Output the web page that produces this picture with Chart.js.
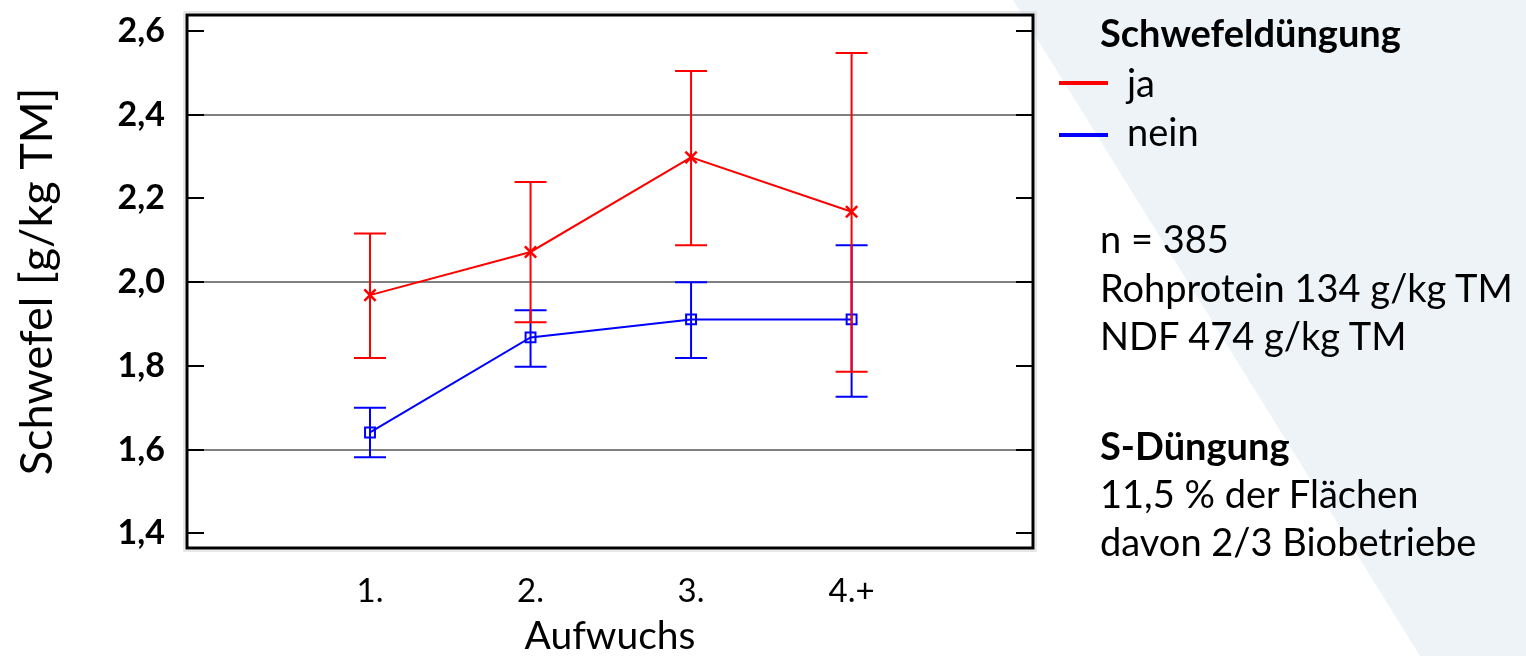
<!DOCTYPE html>
<html lang="de">
<head>
<meta charset="utf-8">
<title>Schwefel nach Aufwuchs</title>
<script src="https://cdn.jsdelivr.net/npm/chart.js@4.4.1/dist/chart.umd.min.js"></script>
<style>
  html, body { margin: 0; padding: 0; background: #fff; }
  #wrap { position: relative; width: 1526px; height: 656px; overflow: hidden; font-family: Lato, "Open Sans", sans-serif; color: #000; }
  #bgShape { position: absolute; left: 0; top: 0; width: 1526px; height: 656px; background: #eef3f7;
             clip-path: polygon(1013px 0, 1526px 0, 1526px 656px, 1420px 656px); }
  #chart { position: absolute; left: 0; top: 0; }
  .note { position: absolute; left: 1100px; font-size: 38px; line-height: 48px; white-space: nowrap; }
  .bold { font-weight: bold; }
  .legLine { position: absolute; left: 1059px; width: 49px; height: 4px; }
</style>
</head>
<body>
<div id="wrap">
  <div id="bgShape"></div>
  <canvas id="chart" width="1526" height="656"></canvas>

  <div class="note bold" style="top:8px;">Schwefeldüngung</div>
  <div class="legLine" style="top:81px; background:#ff0000;"></div>
  <div class="note" style="top:58px; left:1127px;">ja</div>
  <div class="legLine" style="top:133px; background:#0000ff;"></div>
  <div class="note" style="top:107px; left:1127px;">nein</div>

  <div class="note" style="top:214px;">n = 385</div>
  <div class="note" style="top:263px;">Rohprotein 134 g/kg TM</div>
  <div class="note" style="top:311px;">NDF 474 g/kg TM</div>

  <div class="note bold" style="top:421px;">S-Düngung</div>
  <div class="note" style="top:469px;">11,5 % der Flächen</div>
  <div class="note" style="top:517px;">davon 2/3 Biobetriebe</div>
</div>

<script>
// Aufwuchs (Kategorien) und ihre Position auf der x-Achse
const aufwuchsLabels = ['1.', '2.', '3.', '4.+'];
const aufwuchsPos = [1, 2, 3, 4];

// Schwefel [g/kg TM] – Mittelwerte mit Fehlerbalken
const jaMittel = [1.969, 2.072, 2.298, 2.168];
const jaUnten  = [1.819, 1.904, 2.088, 1.786];
const jaOben   = [2.116, 2.239, 2.504, 2.547];

const neinMittel = [1.641, 1.868, 1.911, 1.911];
const neinUnten  = [1.582, 1.798, 1.819, 1.726];
const neinOben   = [1.700, 1.933, 2.000, 2.088];

// Achsenbeschriftung y
const yTickWerte = [1.4, 1.6, 1.8, 2.0, 2.2, 2.4, 2.6];
const yGitterWerte = [1.6, 2.0, 2.4];

const ROT = '#ff0000';
const BLAU = '#0000ff';

function toPoints(means) {
    return aufwuchsPos.map((x, i) => ({ x: x, y: means[i] }));
}

// Fehlerbalken zeichnen (über die Skalen des Diagramms), "ja" zuletzt = oben
const errorBarPlugin = {
    id: 'errorBars',
    afterDatasetsDraw(chart) {
        const ctx = chart.ctx;
        const xs = chart.scales.x;
        const ys = chart.scales.y;
        chart.data.datasets.slice().reverse().forEach((ds) => {
            ctx.save();
            ctx.strokeStyle = ds.borderColor;
            ctx.lineWidth = 2;
            ds.data.forEach((pt, i) => {
                const px = xs.getPixelForValue(pt.x);
                const yLo = ys.getPixelForValue(ds.errLow[i]);
                const yHi = ys.getPixelForValue(ds.errHigh[i]);
                const cap = 16;
                ctx.beginPath();
                ctx.moveTo(px, yLo);
                ctx.lineTo(px, yHi);
                ctx.moveTo(px - cap, yLo);
                ctx.lineTo(px + cap, yLo);
                ctx.moveTo(px - cap, yHi);
                ctx.lineTo(px + cap, yHi);
                ctx.stroke();
            });
            ctx.restore();
        });
    }
};

// Weißer Plotbereich, Rahmen und nach innen zeigende Ticks
const framePlugin = {
    id: 'frame',
    beforeDraw(chart) {
        const { ctx, chartArea: a } = chart;
        ctx.save();
        ctx.fillStyle = '#ffffff';
        ctx.fillRect(a.left, a.top, a.right - a.left, a.bottom - a.top);
        ctx.restore();
    },
    afterDraw(chart) {
        const { ctx, chartArea: a } = chart;
        const ys = chart.scales.y;
        ctx.save();
        ctx.strokeStyle = '#d0d0d0';
        ctx.lineWidth = 1;
        ctx.strokeRect(a.left - 3, a.top - 3, a.right - a.left + 6, a.bottom - a.top + 6);
        ctx.strokeStyle = '#000000';
        ctx.lineWidth = 2;
        yTickWerte.forEach((v) => {
            const py = Math.round(ys.getPixelForValue(v));
            ctx.beginPath();
            ctx.moveTo(a.left, py);
            ctx.lineTo(a.left + 17, py);
            ctx.moveTo(a.right - 17, py);
            ctx.lineTo(a.right, py);
            ctx.stroke();
        });
        ctx.lineWidth = 3;
        ctx.strokeRect(a.left, a.top, a.right - a.left, a.bottom - a.top);
        ctx.restore();
    }
};

Chart.defaults.color = '#000';
Chart.defaults.font.family = 'Lato, "Open Sans", sans-serif';

const ctx = document.getElementById('chart').getContext('2d');
new Chart(ctx, {
    type: 'line',
    data: {
        datasets: [
            {
                label: 'ja',
                data: toPoints(jaMittel),
                errLow: jaUnten,
                errHigh: jaOben,
                borderColor: ROT,
                backgroundColor: ROT,
                borderWidth: 2,
                pointStyle: 'crossRot',
                pointRadius: 8,
                pointBorderWidth: 2.5,
                tension: 0
            },
            {
                label: 'nein',
                data: toPoints(neinMittel),
                errLow: neinUnten,
                errHigh: neinOben,
                borderColor: BLAU,
                backgroundColor: 'rgba(0,0,0,0)',
                borderWidth: 2,
                pointStyle: 'rect',
                pointRadius: 7,
                pointBorderWidth: 2,
                tension: 0
            }
        ]
    },
    options: {
        responsive: false,
        animation: false,
        layout: {
            padding: { left: 0, top: 15, right: 493, bottom: 0 }
        },
        plugins: {
            legend: { display: false },
            tooltip: { enabled: false }
        },
        scales: {
            x: {
                type: 'linear',
                min: -0.14,
                max: 5.13,
                afterBuildTicks: (axis) => { axis.ticks = aufwuchsPos.map(v => ({ value: v })); },
                afterFit: (axis) => {
                    axis.height = 108;
                    axis.paddingLeft = 0;
                    axis.paddingRight = 0;
                },
                ticks: {
                    padding: 24,
                    font: { size: 33 },
                    callback: (value) => aufwuchsLabels[aufwuchsPos.indexOf(value)]
                },
                grid: { display: false, drawTicks: false },
                border: { display: false },
                title: {
                    display: true,
                    text: 'Aufwuchs',
                    font: { size: 39, lineHeight: 1.0 },
                    padding: { top: 0, bottom: 0 }
                }
            },
            y: {
                type: 'linear',
                min: 1.365,
                max: 2.638,
                afterBuildTicks: (axis) => { axis.ticks = yTickWerte.map(v => ({ value: v })); },
                afterFit: (axis) => {
                    axis.width = 187;
                    axis.paddingTop = 0;
                    axis.paddingBottom = 0;
                },
                ticks: {
                    padding: 22,
                    font: { size: 34, weight: 'bold' },
                    callback: (value) => value.toFixed(1).replace('.', ',')
                },
                grid: {
                    drawTicks: false,
                    lineWidth: 2,
                    color: (c) => (c.tick && yGitterWerte.some(v => Math.abs(v - c.tick.value) < 1e-6)) ? '#808080' : 'rgba(0,0,0,0)'
                },
                border: { display: false },
                title: {
                    display: true,
                    text: 'Schwefel [g/kg TM]',
                    font: { size: 45, lineHeight: 1.2 },
                    padding: { top: 10, bottom: 0 }
                }
            }
        }
    },
    plugins: [framePlugin, errorBarPlugin]
});
</script>
</body>
</html>
